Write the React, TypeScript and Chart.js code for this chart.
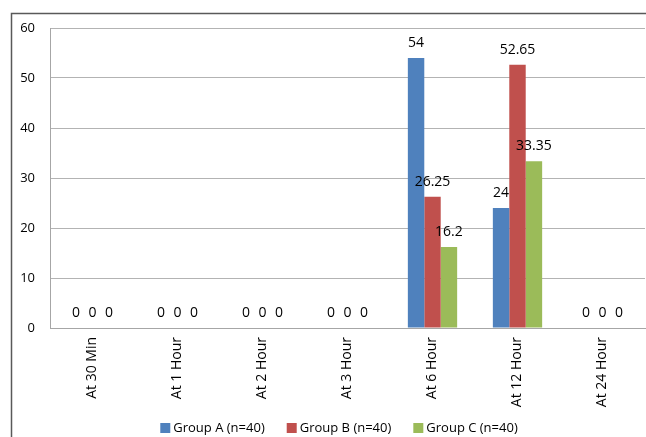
import React, { useEffect, useRef } from "react";
import { Chart, registerables } from "chart.js";

Chart.register(...registerables);

const categories = ["At 30 Min", "At 1 Hour", "At 2 Hour", "At 3 Hour", "At 6 Hour", "At 12 Hour", "At 24 Hour"];
const groupA = [0, 0, 0, 0, 54, 24, 0];
const groupB = [0, 0, 0, 0, 26.25, 52.65, 0];
const groupC = [0, 0, 0, 0, 16.2, 33.35, 0];
const seriesNames = ["Group A (n=40)", "Group B (n=40)", "Group C (n=40)"];
const seriesColors = ["#4f81bd", "#c0504d", "#9bbb59"];

const FONT = "'Open Sans', 'DejaVu Sans', sans-serif";

const framePlugin = {
  id: "frame",
  beforeDraw(chart: any) {
    const ctx = chart.ctx;
    ctx.save();
    ctx.fillStyle = "#ffffff";
    ctx.fillRect(0, 0, chart.width, chart.height);
    ctx.strokeStyle = "#595959";
    ctx.lineWidth = 1.5;
    ctx.beginPath();
    ctx.moveTo(11.5, chart.height);
    ctx.lineTo(11.5, 13.5);
    ctx.lineTo(chart.width, 13.5);
    ctx.stroke();
    ctx.restore();
  },
};

const labelPlugin = {
  id: "valueLabels",
  afterDatasetsDraw(chart: any) {
    const ctx = chart.ctx;
    ctx.save();
    ctx.font = `14px ${FONT}`;
    ctx.fillStyle = "#000000";
    ctx.textAlign = "center";
    ctx.textBaseline = "middle";
    chart.data.datasets.forEach((ds: any, i: number) => {
      const meta = chart.getDatasetMeta(i);
      meta.data.forEach((el: any, j: number) => {
        const v = ds.data[j];
        ctx.fillText(String(v), el.x, el.y - 15);
      });
    });
    ctx.restore();
  },
};

const legendPlugin = {
  id: "bottomLegend",
  afterDraw(chart: any) {
    const ctx = chart.ctx;
    ctx.save();
    ctx.font = `13px ${FONT}`;
    ctx.textBaseline = "middle";
    ctx.textAlign = "left";
    const box = 10;
    const gap = 3;
    const itemGap = 22;
    const items = chart.data.datasets.map((ds: any) => ({
      label: ds.label,
      color: ds.backgroundColor,
      w: box + gap + ctx.measureText(ds.label).width,
    }));
    const total = items.reduce((s: number, it: any) => s + it.w, 0) + itemGap * (items.length - 1);
    let x = chart.width / 2 + 16 - total / 2;
    const cy = 428;
    items.forEach((it: any) => {
      ctx.fillStyle = it.color;
      ctx.fillRect(x, cy - box / 2, box, box);
      ctx.fillStyle = "#000000";
      ctx.fillText(it.label, x + box + gap, cy);
      x += it.w + itemGap;
    });
    ctx.restore();
  },
};

export default function App() {
  const ref = useRef<HTMLCanvasElement>(null);
  useEffect(() => {
    if (!ref.current) return;
    const chart = new Chart(ref.current, {
      type: "bar",
      data: {
        labels: categories,
        datasets: [groupA, groupB, groupC].map((d, i) => ({
          label: seriesNames[i],
          data: d,
          backgroundColor: seriesColors[i],
          borderWidth: 0,
          categoryPercentage: 0.58,
          barPercentage: 1.0,
        })),
      },
      options: {
        responsive: false,
        animation: false,
        layout: { padding: { left: 0, top: 28, right: 1, bottom: 29 } },
        plugins: {
          legend: { display: false },
          tooltip: { enabled: false },
        },
        scales: {
          x: {
            grid: { display: false, drawTicks: false },
            border: { display: true, color: "#a6a6a6", width: 1 },
            ticks: {
              maxRotation: 90,
              minRotation: 90,
              padding: 9,
              color: "#000000",
              font: { family: FONT, size: 14 },
            },
            afterFit(scale: any) {
              scale.height = 80;
            },
          },
          y: {
            min: 0,
            max: 60,
            ticks: {
              stepSize: 10,
              padding: 15,
              color: "#000000",
              font: { family: FONT, size: 13 },
            },
            grid: { color: "#b3b3b3", drawTicks: false },
            border: { display: true, color: "#a6a6a6", width: 1 },
            afterFit(scale: any) {
              scale.width = 50;
            },
          },
        },
      },
      plugins: [framePlugin, labelPlugin, legendPlugin],
    });
    return () => chart.destroy();
  }, []);
  return (
    <div style={{ position: "absolute", left: 0, top: 0, width: 646, height: 437 }}>
      <canvas ref={ref} width={646} height={437} style={{ display: "block" }} />
    </div>
  );
}
